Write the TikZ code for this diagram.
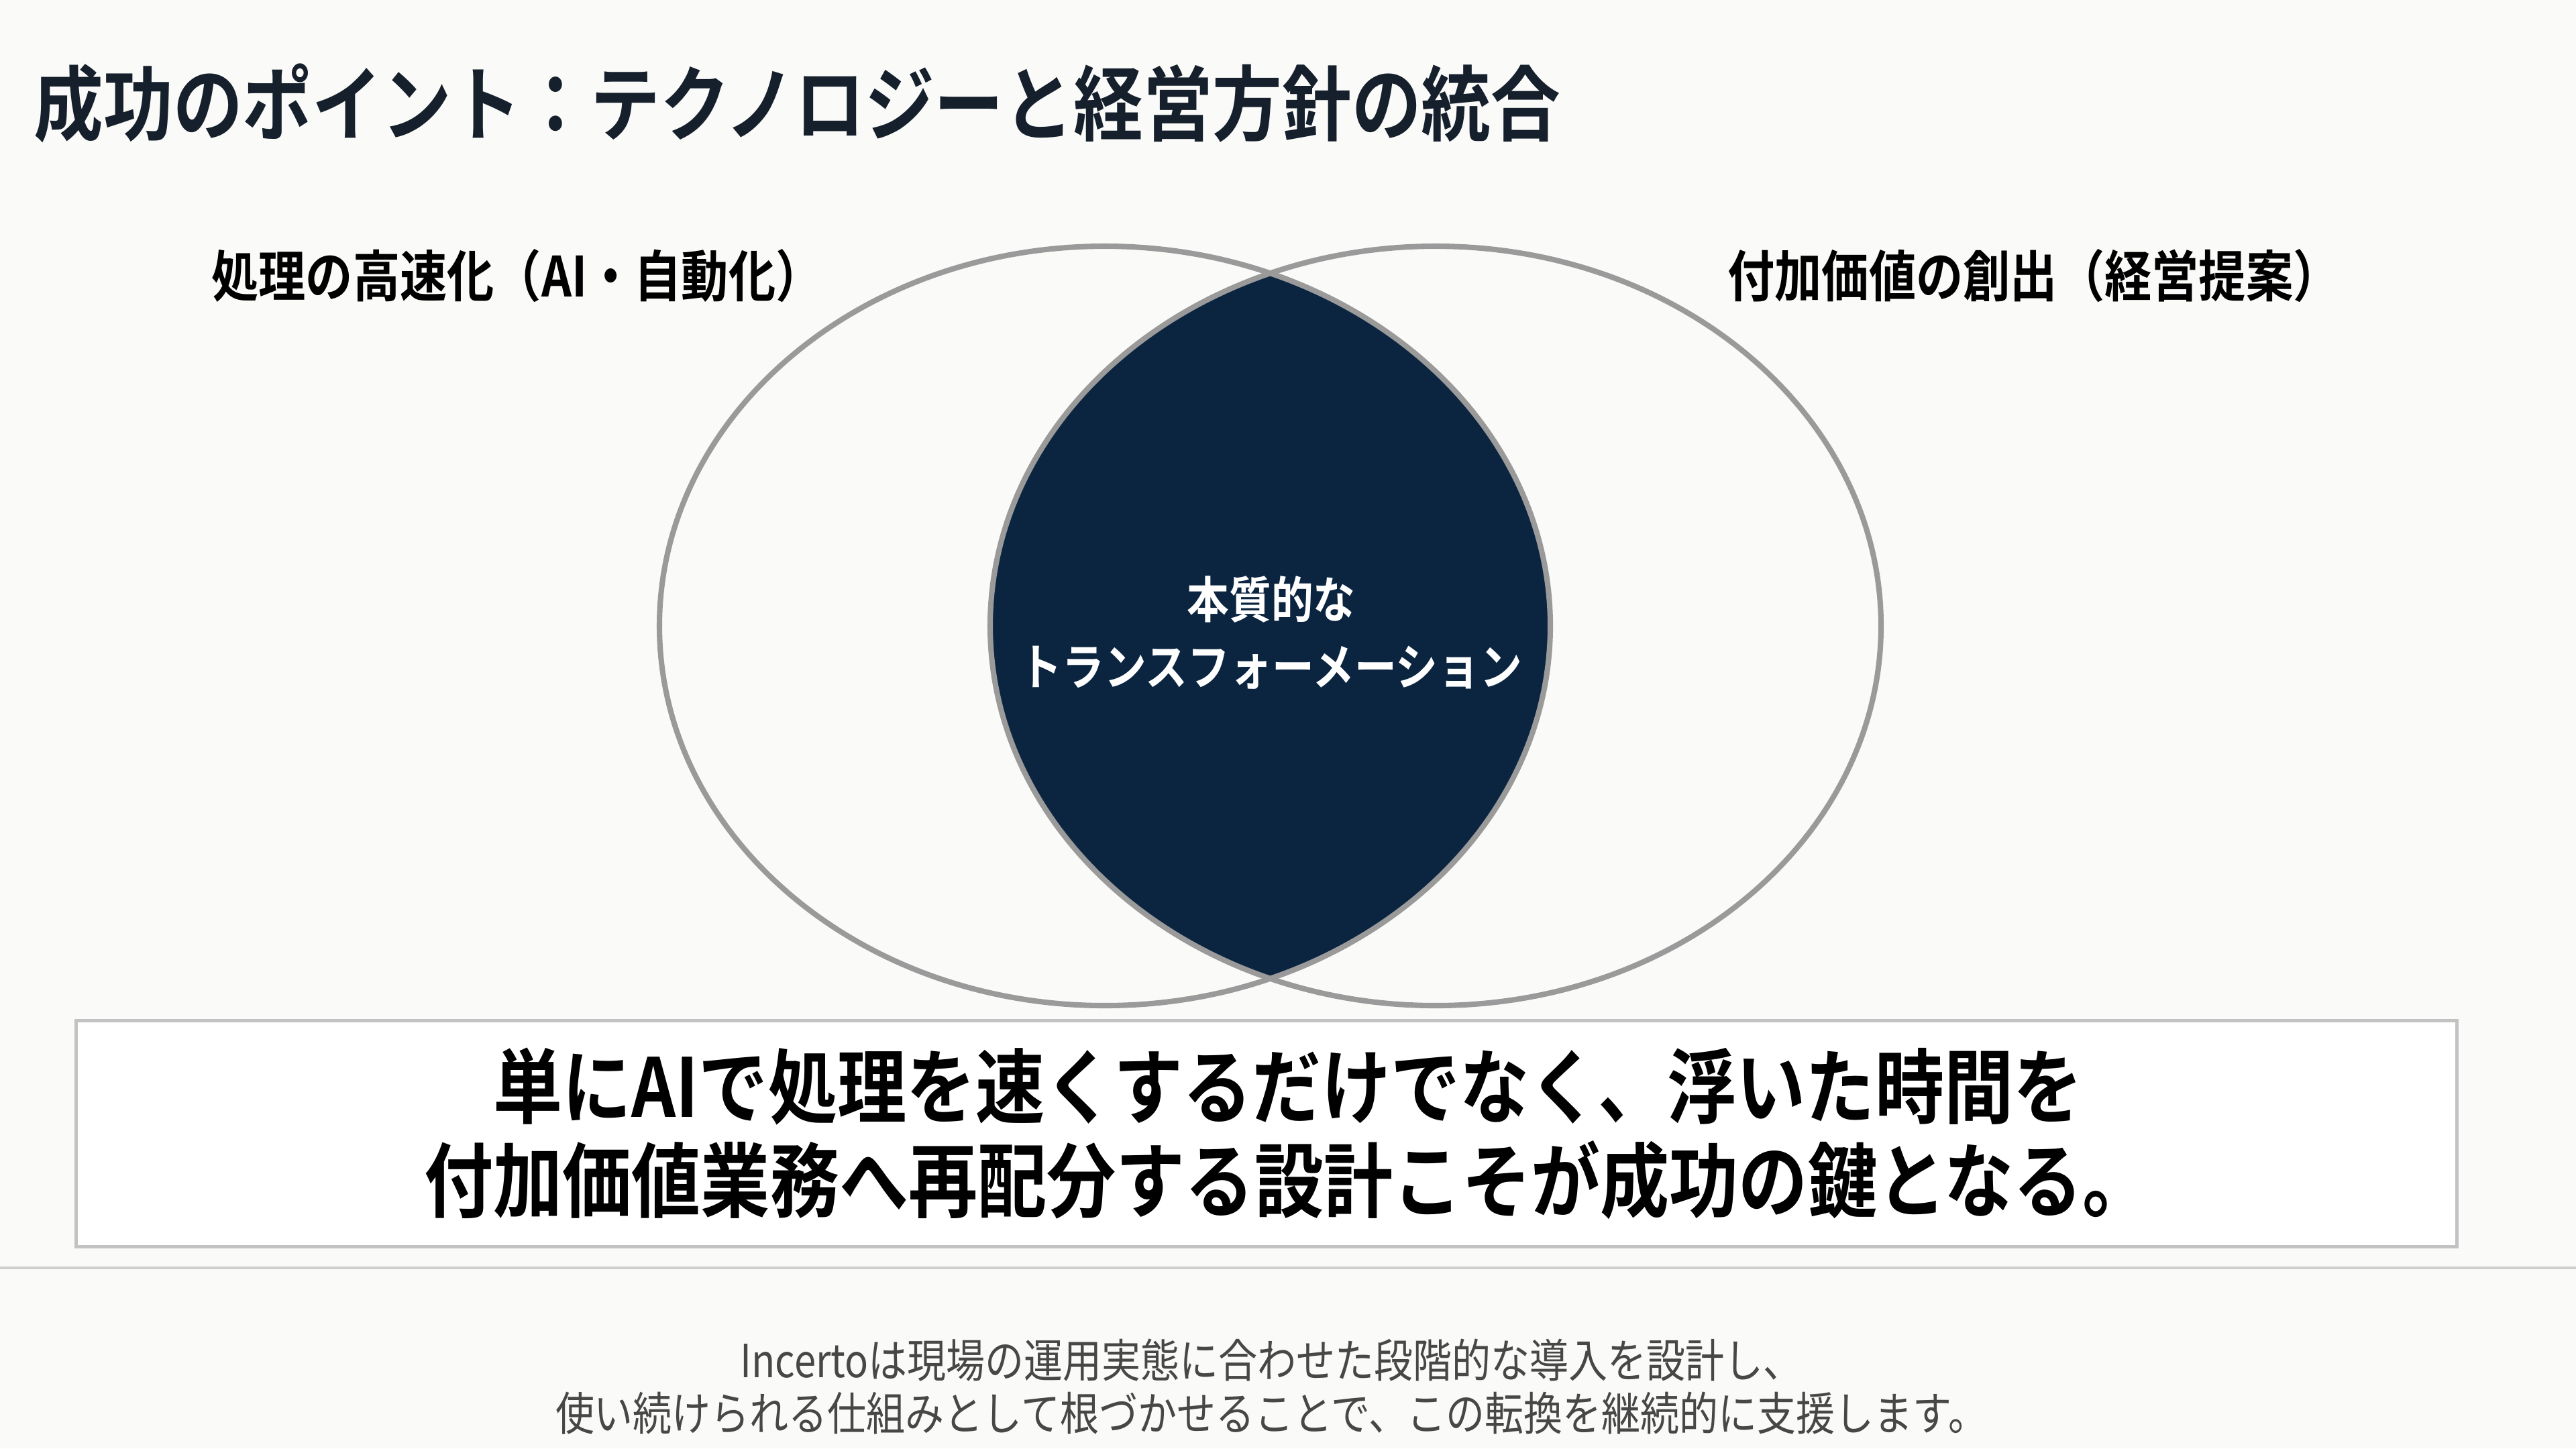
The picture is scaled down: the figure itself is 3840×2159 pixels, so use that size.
\documentclass[tikz,border=0pt]{standalone}
\usepackage{fontspec}
\setmainfont{Noto Sans CJK JP}[BoldFont={* Bold},FakeStretch=0.85]
\usepackage{tikz}
\usetikzlibrary{calc}

\definecolor{paper}{HTML}{FAFAF8}
\definecolor{navy}{HTML}{0B2540}
\definecolor{ink}{HTML}{16202C}
\definecolor{ringgray}{HTML}{9A9A9A}
\definecolor{boxgray}{HTML}{C2C2C2}
\definecolor{notegray}{HTML}{474747}

\begin{document}
\begin{tikzpicture}[x=0.01cm,y=0.01cm,
    ring/.style={draw=ringgray,line width=2.3pt},
    heading/.style={inner sep=0pt,font=\bfseries\fontsize{23.5}{28}\selectfont,text=black}]
        \useasboundingbox (0,0) rectangle (3840,-2159);
        \fill[paper] (0,0) rectangle (3840,-2159);
        % title
        \node[anchor=west,inner sep=0pt,text=ink,font=\bfseries\fontsize{34.7}{40}\selectfont] (title) at (50,-154)
            {成功のポイント：テクノロジーと経営方針の統合};
        % circle labels
        \node[heading] (leftlabel) at (771,-411) {処理の高速化（AI・自動化）};
        \node[heading] (rightlabel) at (3032,-411) {付加価値の創出（経営提案）};
        % lens between the two circles
        \begin{scope}
        \clip (1647,-933) ellipse [x radius=665,y radius=566];
        \fill[navy] (2140,-933) ellipse [x radius=663,y radius=566];
        \end{scope}
        \foreach \cx in {1647,2140}
        \draw[ring] (\cx,-933) ellipse [x radius=664,y radius=566];
        \node[text=white,align=center,font=\bfseries\fontsize{21}{28.4}\selectfont] (core) at (1895,-943)
            {本質的な\\トランスフォーメーション};
        % key message
        \node[draw=boxgray,line width=1.4pt,fill=white,minimum width=35.47cm,minimum height=3.36cm] (keybox) at (1888,-1690) {};
        \node[align=center,text=black,font=\bfseries\fontsize{34.5}{39.8}\selectfont] (keytext) at ($(keybox.center)+(32,0)$)
            {単にAIで処理を速くするだけでなく、浮いた時間を\\付加価値業務へ再配分する設計こそが成功の鍵となる。};
        \draw[boxgray!80,line width=1.1pt] (0,-1890) -- (3840,-1890);
        % footnote
        \node[text=notegray,align=center,font=\fontsize{19.4}{22.2}\selectfont] (note) at (1895,-2067)
            {Incertoは現場の運用実態に合わせた段階的な導入を設計し、\\使い続けられる仕組みとして根づかせることで、この転換を継続的に支援します。};
\end{tikzpicture}
\end{document}
